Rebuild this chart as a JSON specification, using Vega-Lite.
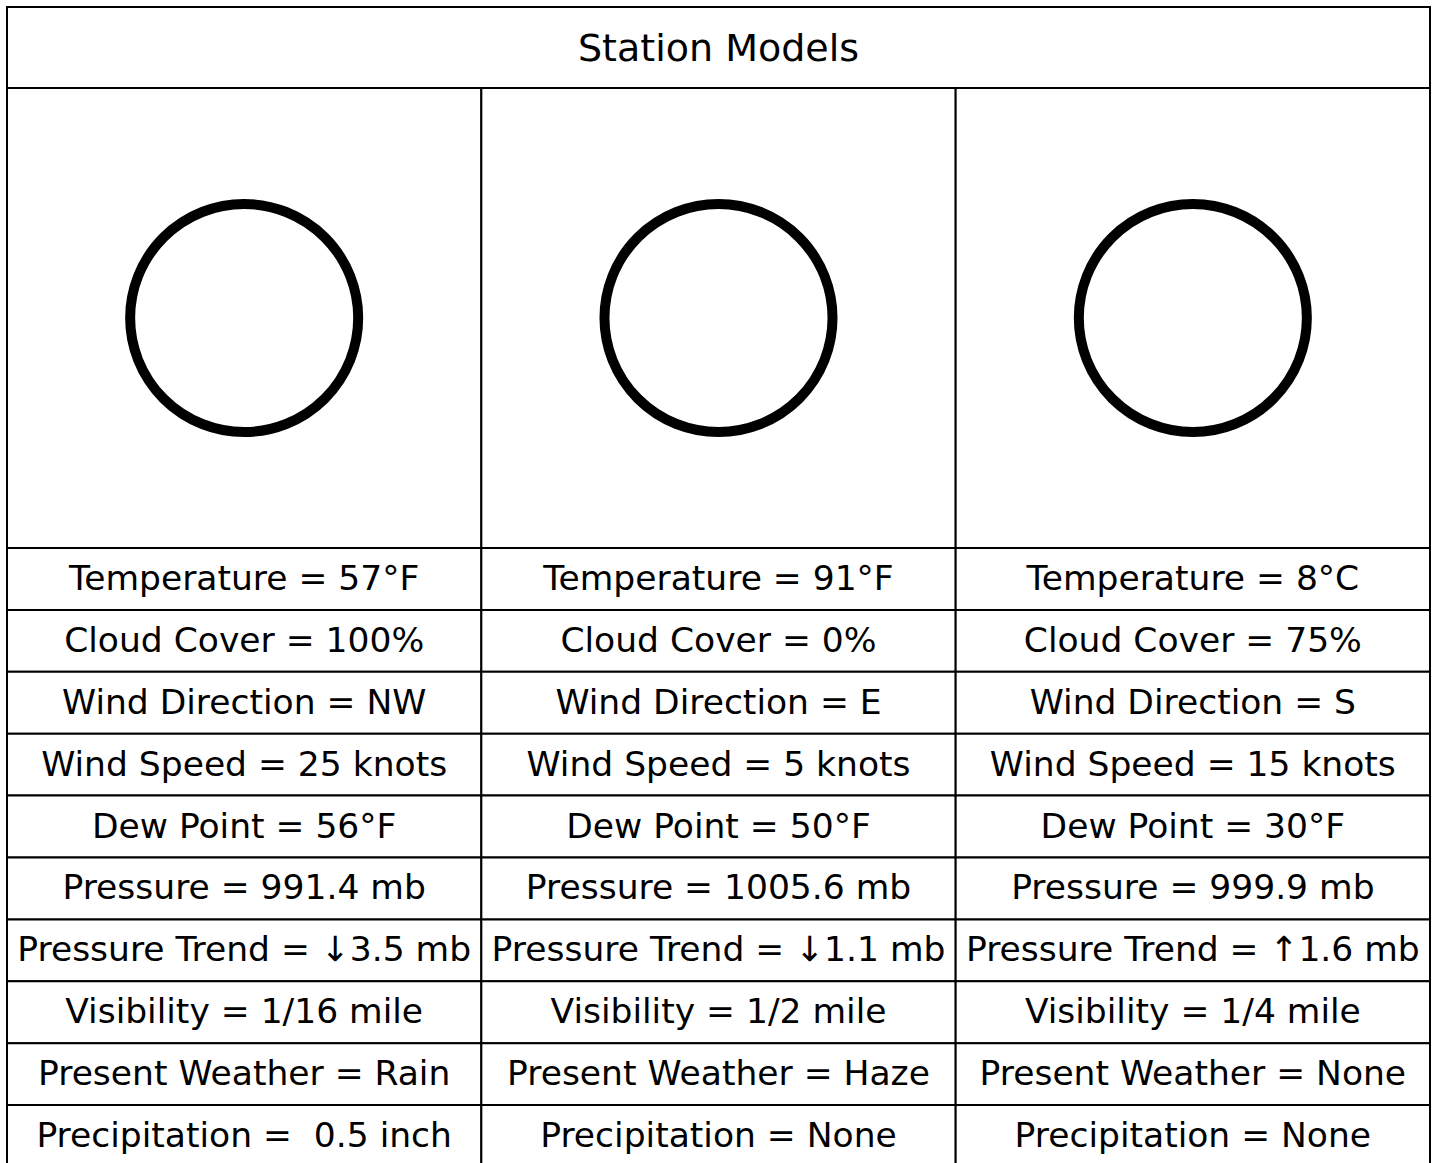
{
  "$schema": "https://vega.github.io/schema/vega-lite/v6.json",
  "padding": {"left": 6, "top": 6, "right": 4, "bottom": -4},
  "background": "white",
  "bounds": "flush",
  "spacing": 0,
  "config": {"view": {"stroke": null}, "concat": {"spacing": 0}},
  "datasets": {
    "cells": [
      {"station": "A", "attr": "Temperature", "label": "Temperature = 57°F"},
      {"station": "A", "attr": "Cloud Cover", "label": "Cloud Cover = 100%"},
      {"station": "A", "attr": "Wind Direction", "label": "Wind Direction = NW"},
      {"station": "A", "attr": "Wind Speed", "label": "Wind Speed = 25 knots"},
      {"station": "A", "attr": "Dew Point", "label": "Dew Point = 56°F"},
      {"station": "A", "attr": "Pressure", "label": "Pressure = 991.4 mb"},
      {"station": "A", "attr": "Pressure Trend", "label": "Pressure Trend = ↓3.5 mb"},
      {"station": "A", "attr": "Visibility", "label": "Visibility = 1/16 mile"},
      {"station": "A", "attr": "Present Weather", "label": "Present Weather = Rain"},
      {"station": "A", "attr": "Precipitation", "label": "Precipitation =\u00a0 0.5 inch"},
      {"station": "B", "attr": "Temperature", "label": "Temperature = 91°F"},
      {"station": "B", "attr": "Cloud Cover", "label": "Cloud Cover = 0%"},
      {"station": "B", "attr": "Wind Direction", "label": "Wind Direction = E"},
      {"station": "B", "attr": "Wind Speed", "label": "Wind Speed = 5 knots"},
      {"station": "B", "attr": "Dew Point", "label": "Dew Point = 50°F"},
      {"station": "B", "attr": "Pressure", "label": "Pressure = 1005.6 mb"},
      {"station": "B", "attr": "Pressure Trend", "label": "Pressure Trend = ↓1.1 mb"},
      {"station": "B", "attr": "Visibility", "label": "Visibility = 1/2 mile"},
      {"station": "B", "attr": "Present Weather", "label": "Present Weather = Haze"},
      {"station": "B", "attr": "Precipitation", "label": "Precipitation = None"},
      {"station": "C", "attr": "Temperature", "label": "Temperature = 8°C"},
      {"station": "C", "attr": "Cloud Cover", "label": "Cloud Cover = 75%"},
      {"station": "C", "attr": "Wind Direction", "label": "Wind Direction = S"},
      {"station": "C", "attr": "Wind Speed", "label": "Wind Speed = 15 knots"},
      {"station": "C", "attr": "Dew Point", "label": "Dew Point = 30°F"},
      {"station": "C", "attr": "Pressure", "label": "Pressure = 999.9 mb"},
      {"station": "C", "attr": "Pressure Trend", "label": "Pressure Trend = ↑1.6 mb"},
      {"station": "C", "attr": "Visibility", "label": "Visibility = 1/4 mile"},
      {"station": "C", "attr": "Present Weather", "label": "Present Weather = None"},
      {"station": "C", "attr": "Precipitation", "label": "Precipitation = None"}
    ],
    "stations": [{"station": "A"}, {"station": "B"}, {"station": "C"}],
    "title": [{"title": "Station Models"}]
  },
  "vconcat": [
    {
      "width": 1423,
      "height": 81,
      "data": {"name": "title"},
      "encoding": {
        "x": {"field": "title", "type": "nominal", "axis": null, "scale": {"type": "band", "paddingInner": 0, "paddingOuter": 0}}
      },
      "layer": [
        {"mark": {"type": "rect", "fill": "white", "stroke": "black", "strokeWidth": 2}},
        {"mark": {"type": "text", "font": "DejaVu Sans", "fontSize": 38, "color": "black", "baseline": "middle", "align": "center", "dy": 2},
         "encoding": {"text": {"field": "title"}}}
      ]
    },
    {
      "width": 1423,
      "height": 460,
      "data": {"name": "stations"},
      "encoding": {
        "x": {"field": "station", "type": "nominal", "axis": null, "scale": {"type": "band", "paddingInner": 0, "paddingOuter": 0}}
      },
      "layer": [
        {"mark": {"type": "rect", "fill": "white", "stroke": "black", "strokeWidth": 2}},
        {"mark": {"type": "point", "shape": "circle", "filled": false, "size": 52000, "stroke": "black", "strokeWidth": 10, "opacity": 1}}
      ]
    },
    {
      "width": 1423,
      "height": 619,
      "data": {"name": "cells"},
      "encoding": {
        "x": {"field": "station", "type": "nominal", "axis": null, "scale": {"type": "band", "paddingInner": 0, "paddingOuter": 0}},
        "y": {"field": "attr", "type": "nominal", "axis": null,
              "sort": ["Temperature", "Cloud Cover", "Wind Direction", "Wind Speed", "Dew Point", "Pressure", "Pressure Trend", "Visibility", "Present Weather", "Precipitation"],
              "scale": {"type": "band", "paddingInner": 0, "paddingOuter": 0}}
      },
      "layer": [
        {"mark": {"type": "rect", "fill": "white", "stroke": "black", "strokeWidth": 2}},
        {"mark": {"type": "text", "font": "DejaVu Sans", "fontSize": 34.5, "color": "black", "baseline": "middle", "align": "center", "dy": 1},
         "encoding": {"text": {"field": "label"}}}
      ]
    }
  ]
}
